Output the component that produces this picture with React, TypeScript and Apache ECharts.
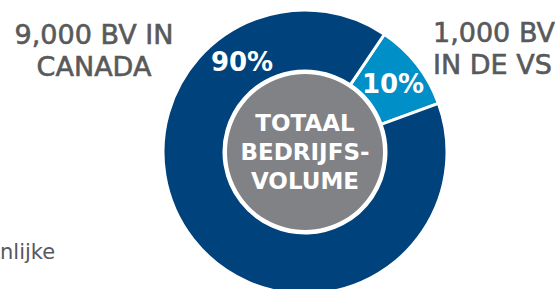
import React, { useEffect, useRef } from "react";
import * as echarts from "echarts";

const categories = ["IN DE VS", "IN CANADA"];
const volumes = [1000, 9000];
const shares = [10, 90];
const centerLines = ["TOTAAL", "BEDRIJFS-", "VOLUME"];
const footText = "nlijke";

const DARK = "#00427B";
const LIGHT = "#008FC6";
const GREY = "#818286";
const TXT = "#58595B";
const FONT = "'DejaVu Sans', 'Open Sans', sans-serif";

function fmt(n: number) {
  return n.toLocaleString("en-US");
}

export default function App() {
  const ref = useRef<HTMLDivElement>(null);
  useEffect(() => {
    document.body.style.margin = "0";
    const chart = echarts.init(ref.current!, undefined, { renderer: "svg" });
    chart.setOption({
      animation: false,
      backgroundColor: "#ffffff",
      series: [
        {
          type: "pie",
          center: [305, 152],
          radius: [81, 142],
          startAngle: 56,
          clockwise: true,
          silent: true,
          itemStyle: { borderColor: "#ffffff", borderWidth: 3 },
          label: {
            show: true,
            position: "inside",
            color: "#ffffff",
            fontFamily: FONT,
            fontWeight: "bold",
            fontSize: 26,
            formatter: (p: any) => shares[p.dataIndex] + "%",
          },
          labelLayout: (p: any) =>
            p.dataIndex === 1 ? { x: 242, y: 62 } : { x: 393, y: 84 },
          labelLine: { show: false },
          data: categories.map((c, i) => ({
            name: c,
            value: volumes[i],
            itemStyle: { color: i === 0 ? LIGHT : DARK },
          })),
        },
        {
          type: "pie",
          center: [305, 152],
          radius: [0, 78],
          silent: true,
          label: {
            show: true,
            position: "center",
            color: "#ffffff",
            fontFamily: FONT,
            fontWeight: "bold",
            fontSize: 23,
            lineHeight: 29,
            formatter: centerLines.join("\n"),
          },
          labelLine: { show: false },
          data: [{ value: volumes[0] + volumes[1], name: "totaal", itemStyle: { color: GREY } }],
        },
      ],
      graphic: [
        {
          type: "text",
          x: 94,
          y: 18,
          style: {
            text: fmt(volumes[1]) + " BV " + categories[1].replace(" ", "\n"),
            fill: TXT,
            font: "27px " + FONT,
            lineHeight: 32,
            textAlign: "center",
            stroke: TXT,
            lineWidth: 0.6,
          },
        },
        {
          type: "text",
          x: 433,
          y: 16,
          style: {
            text: fmt(volumes[0]) + " BV\n" + categories[0],
            fill: TXT,
            font: "27px " + FONT,
            lineHeight: 32,
            textAlign: "left",
            stroke: TXT,
            lineWidth: 0.6,
          },
        },
        {
          type: "text",
          x: 0,
          y: 241,
          style: {
            text: footText,
            fill: TXT,
            font: "21px " + FONT,
            textAlign: "left",
          },
        },
      ],
    });
    return () => chart.dispose();
  }, []);
  return (
    <div
      ref={ref}
      style={{ position: "absolute", left: 0, top: 0, width: 555, height: 289 }}
    />
  );
}
